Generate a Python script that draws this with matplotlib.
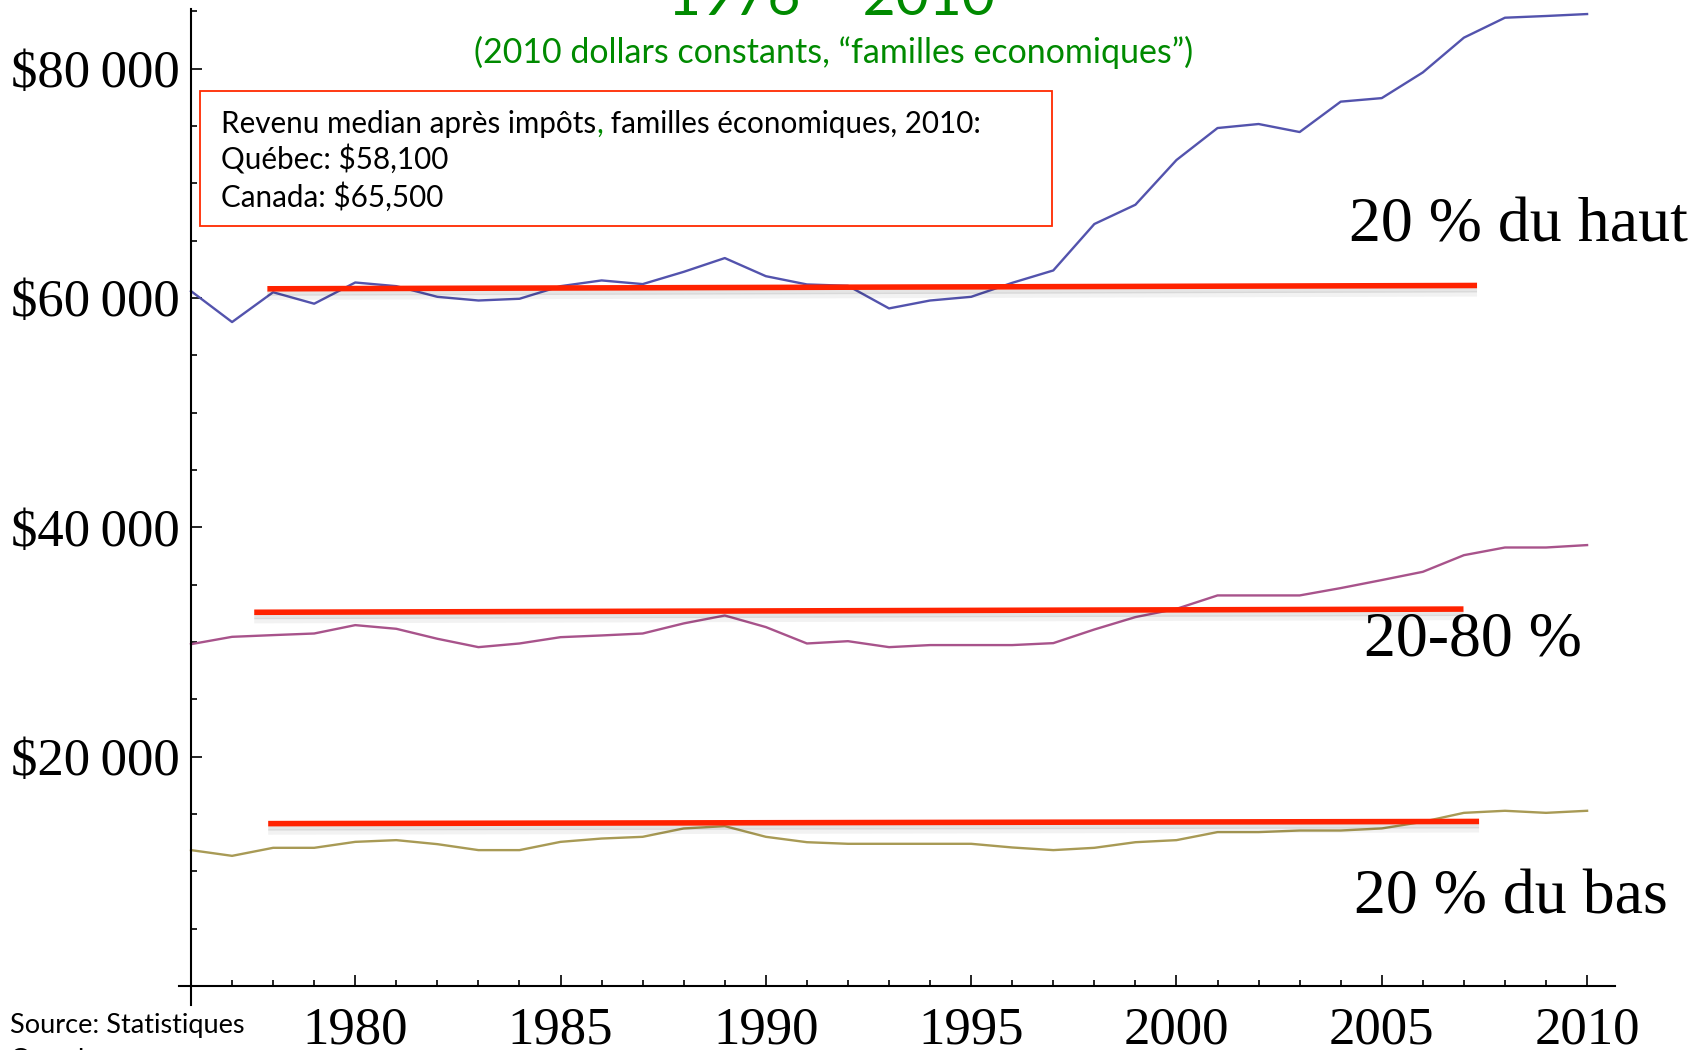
import matplotlib
matplotlib.use('Agg')
import matplotlib.pyplot as plt
import matplotlib.patheffects as pe
from matplotlib.patches import Rectangle
from matplotlib.ticker import MultipleLocator

# revenu apres impots, dollars constants 2010
years = list(range(1976, 2011))
top20 = [60600, 57900, 60500, 59500, 61350, 61030, 60100, 59780, 59930, 61030,
         61530, 61210, 62280, 63480, 61900, 61180, 61060, 59090, 59780, 60100,
         61320, 62400, 66450, 68130, 72030, 74820, 75170, 74470, 77120, 77430,
         79670, 82700, 84440, 84590, 84760]
mid60 = [29810, 30450, 30600, 30740, 31470, 31150, 30280, 29550, 29870, 30420,
         30570, 30740, 31620, 32310, 31300, 29870, 30070, 29550, 29730, 29730,
         29730, 29900, 31090, 32170, 32890, 34060, 34060, 34060, 34700, 35400,
         36120, 37570, 38240, 38240, 38450]
bottom20 = [11850, 11350, 12050, 12050, 12570, 12720, 12370, 11850, 11850, 12570,
            12860, 13010, 13740, 13940, 13010, 12540, 12400, 12400, 12400, 12400,
            12080, 11850, 12050, 12540, 12720, 13420, 13420, 13560, 13560, 13740,
            14320, 15100, 15280, 15100, 15280]

# lignes rouges (moyennes)
avg_x0 = [1977.86, 1977.54, 1977.88]
avg_x1 = [2007.32, 2006.99, 2007.37]
avg_y0 = [60800, 32590, 14160]
avg_y1 = [61090, 32870, 14350]

ytick_vals = [20000, 40000, 60000, 80000]
ytick_labels = ['$20\u2009000', '$40\u2009000', '$60\u2009000', '$80\u2009000']
xtick_vals = [1980, 1985, 1990, 1995, 2000, 2005, 2010]

series_colors = ['#5353AD', '#A8538B', '#A89A55']
red = '#FF2200'
green = '#008A00'
serif = ['Liberation Serif', 'DejaVu Serif']
sans = ['Lato', 'DejaVu Sans']

W, H = 1708, 1050
fig = plt.figure(figsize=(W / 100, H / 100), dpi=100)


def fx(x):
    return x / W


def fy(y):
    return 1 - y / H


ax = fig.add_axes([fx(191), fy(986), fx(1615) - fx(191), fy(9) - fy(986)])
ax.set_xlim(1976, 2010.68)
ax.set_ylim(0, 85200)

for s in ['top', 'right']:
    ax.spines[s].set_visible(False)
for s in ['left', 'bottom']:
    ax.spines[s].set_linewidth(1.5)
ax.spines['left'].set_bounds(-1700, 85200)
ax.spines['bottom'].set_bounds(1975.7, 2010.68)

ax.set_xticks(xtick_vals)
ax.xaxis.set_minor_locator(MultipleLocator(1))
ax.set_yticks(ytick_vals, labels=ytick_labels)
ax.yaxis.set_minor_locator(MultipleLocator(5000))
ax.tick_params(which='major', direction='in', length=8, width=1.2)
ax.tick_params(which='minor', direction='in', length=4.5, width=1.2)
ax.tick_params(axis='x', which='major', pad=15)
ax.tick_params(axis='y', which='major', pad=8)
for lab in ax.get_xticklabels() + ax.get_yticklabels():
    lab.set_family(serif)
    lab.set_fontsize(38)

for vals, c in zip([top20, mid60, bottom20], series_colors):
    ax.plot(years, vals, color=c, lw=1.7, clip_on=False)

shadow = [pe.SimpleLineShadow(offset=(0, -3), shadow_color='k', alpha=0.10),
          pe.SimpleLineShadow(offset=(0, -6), shadow_color='k', alpha=0.05),
          pe.Normal()]
for x0, x1, y0, y1 in zip(avg_x0, avg_x1, avg_y0, avg_y1):
    ax.plot([x0, x1], [y0, y1], color=red, lw=4, solid_capstyle='butt',
            path_effects=shadow, zorder=3)

# titres
fig.text(fx(831), fy(15), '1976 \u2013 2010', color=green, fontsize=41,
         family=sans, ha='center', va='baseline')
fig.text(fx(834), fy(63), '(2010 dollars constants, \u201cfamilles economiques\u201d)',
         color=green, fontsize=24.5, family=sans, ha='center', va='baseline')

# encadre
fig.add_artist(Rectangle((fx(200), fy(226)), fx(1052) - fx(200), fy(91) - fy(226),
                         transform=fig.transFigure, fill=False,
                         edgecolor='#FF2A00', lw=1.3))
fs_box = 21.3
fig.canvas.draw()
renderer = fig.canvas.get_renderer()
t1 = fig.text(fx(221), fy(133), 'Revenu median apr\u00e8s imp\u00f4ts', fontsize=fs_box,
              family=sans, va='baseline')
bb = t1.get_window_extent(renderer)
t2 = fig.text(bb.x1 / W, fy(133), ',', fontsize=fs_box, family=sans, color=green,
              va='baseline')
bb2 = t2.get_window_extent(renderer)
fig.text(bb2.x1 / W, fy(133), ' familles \u00e9conomiques, 2010:', fontsize=fs_box,
         family=sans, va='baseline')
fig.text(fx(221), fy(170), 'Qu\u00e9bec: $58,100', fontsize=fs_box, family=sans,
         va='baseline')
fig.text(fx(221), fy(207), 'Canada: $65,500', fontsize=fs_box, family=sans,
         va='baseline')

# etiquettes des groupes
fig.text(fx(1349), fy(242), '20 % du haut', fontsize=46, family=serif, va='baseline')
fig.text(fx(1364), fy(656), '20-80 %', fontsize=46, family=serif, va='baseline')
fig.text(fx(1354), fy(913), '20 % du bas', fontsize=46, family=serif, va='baseline')

fig.text(fx(10), fy(1033), 'Source: Statistiques', fontsize=19.5, family=sans,
         va='baseline')
fig.text(fx(10), fy(1068), 'Canada', fontsize=19.5, family=sans, va='baseline')

fig.savefig('out.png', dpi=100)
